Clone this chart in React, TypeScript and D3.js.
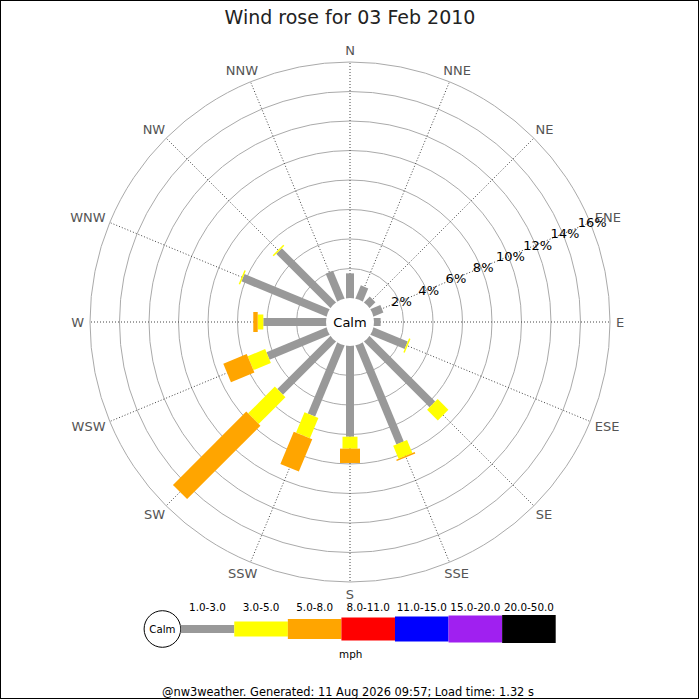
import React from "react";
import * as d3 from "d3";

const directions = ["N","NNE","NE","ENE","E","ESE","SE","SSE","S","SSW","SW","WSW","W","WNW","NW","NNW"];
const speedClasses = ["1.0-3.0","3.0-5.0","5.0-8.0","8.0-11.0","11.0-15.0","15.0-20.0","20.0-50.0"];
const classColors = ["#999999","#ffff00","#ffa500","#ff0000","#0000ff","#a020f0","#000000"];
const classWidths = [8, 15, 20, 23, 25, 27, 28];
// percent frequency per direction for each speed class
const pct1to3 = [1.67,0.95,0.54,0.71,0.45,2.5,6.27,7.25,6.15,5.2,5.07,4.39,4.25,6.23,5.18,2.03];
const pct3to5 = [0,0,0,0,0,0.1,1.03,0.95,0.81,1.5,2.57,1.28,0.38,0.1,0.1,0];
const pct5to8 = [0,0,0,0,0,0,0,0.1,0.97,2.37,7.03,1.72,0.3,0,0,0];
const pct8to11 = [0,0,0,0,0,0,0,0,0,0,0,0,0,0,0,0];
const seriesPct = [pct1to3, pct3to5, pct5to8, pct8to11];
const ringTicks = [2,4,6,8,10,12,14,16];
const titleText = "Wind rose for 03 Feb 2010";
const footerText = "@nw3weather. Generated: 11 Aug 2026 09:57; Load time: 1.32 s";

const W = 700, H = 700;
const cx = 350, cy = 322;
const calmR = 24;
const outerR = 260;
const font = "DejaVu Sans, sans-serif";
const dirFont = 13;
const glyphW: Record<string, number> = { N: 0.748, E: 0.632, S: 0.635, W: 0.989 };

export default function App() {
  const r = d3.scaleLinear().domain([0, 16]).range([calmR, outerR]);
  const angle = d3.scaleBand().domain(directions).range([0, 360]).paddingInner(0).align(0);
  const ang = (d: string) => (angle(d) as number);
  const rad = (deg: number) => (deg * Math.PI) / 180;
  const pt = (deg: number, rr: number): [number, number] => [cx + rr * Math.sin(rad(deg)), cy - rr * Math.cos(rad(deg))];

  const segs: { dir: string; k: number; r0: number; r1: number }[] = [];
  directions.forEach((d, i) => {
    let cum = 0;
    seriesPct.forEach((s, k) => {
      const v = s[i];
      if (v > 0) {
        segs.push({ dir: d, k, r0: cum === 0 ? 0 : r(cum), r1: r(cum + v) });
      }
      cum += v;
    });
  });
  segs.sort((a, b) => a.k - b.k);

  const legX = d3.scaleBand().domain(speedClasses).range([180.7, 555.7]);
  const legY = 629;

  return (
    <svg width={W} height={H} style={{ position: "absolute", left: 0, top: 0, background: "#fff" }} fontFamily={font}>
      <rect x={0.5} y={0.5} width={698} height={698} fill="#fff" stroke="#000" strokeWidth={1} />
      <text x={350} y={24} textAnchor="middle" fontSize={19} fill="#222">{titleText}</text>
      {ringTicks.map((t) => (
        <circle key={t} cx={cx} cy={cy} r={r(t)} fill="none" stroke="#aaa" strokeWidth={1} />
      ))}
      {directions.map((d) => {
        const [x1, y1] = pt(ang(d), calmR);
        const [x2, y2] = pt(ang(d), outerR);
        return <line key={d} x1={x1} y1={y1} x2={x2} y2={y2} stroke="#444" strokeWidth={1} strokeDasharray="1,2" />;
      })}
      {directions.map((d) => {
        const a = rad(ang(d));
        const tw = d.split("").reduce((s, c) => s + (glyphW[c] || 0.7), 0) * dirFont;
        const R = 266;
        const x = cx + Math.sin(a) * (R + tw / 2);
        const y = cy - Math.cos(a) * (R + 6);
        return (
          <text key={d} x={x} y={y} textAnchor="middle" dominantBaseline="central" fontSize={dirFont} fill="#555">{d}</text>
        );
      })}
      {segs.map((s, i) => {
        const w = classWidths[s.k];
        return (
          <rect key={i} x={-w / 2} y={-s.r1} width={w} height={s.r1 - s.r0} fill={classColors[s.k]}
            transform={`translate(${cx},${cy}) rotate(${ang(s.dir)})`} />
        );
      })}
      <circle cx={cx} cy={cy} r={calmR} fill="#fff" />
      <text x={cx} y={cy} textAnchor="middle" dominantBaseline="central" fontSize={13} fill="#000">Calm</text>
      {ringTicks.map((t) => {
        const [x, y] = pt(67.5, r(t));
        return (
          <text key={t} x={x + 2} y={y} textAnchor="middle" dominantBaseline="central" fontSize={13} fill="#000">{t}%</text>
        );
      })}
      <circle cx={162.4} cy={legY} r={18.3} fill="#fff" stroke="#000" strokeWidth={1} />
      <text x={162.4} y={legY} textAnchor="middle" dominantBaseline="central" fontSize={10.2} fill="#000">Calm</text>
      {speedClasses.map((c, k) => (
        <g key={c}>
          <rect x={legX(c)} y={legY - classWidths[k] / 2} width={legX.bandwidth()} height={classWidths[k]} fill={classColors[k]} />
          <text x={(legX(c) as number) + legX.bandwidth() / 2} y={607} textAnchor="middle" dominantBaseline="central" fontSize={10.4} fill="#000">{c}</text>
        </g>
      ))}
      <text x={350.7} y={654} textAnchor="middle" dominantBaseline="central" fontSize={10.4} fill="#000">mph</text>
      <text x={348} y={691.5} textAnchor="middle" dominantBaseline="central" fontSize={11.4} fill="#000">{footerText}</text>
    </svg>
  );
}
